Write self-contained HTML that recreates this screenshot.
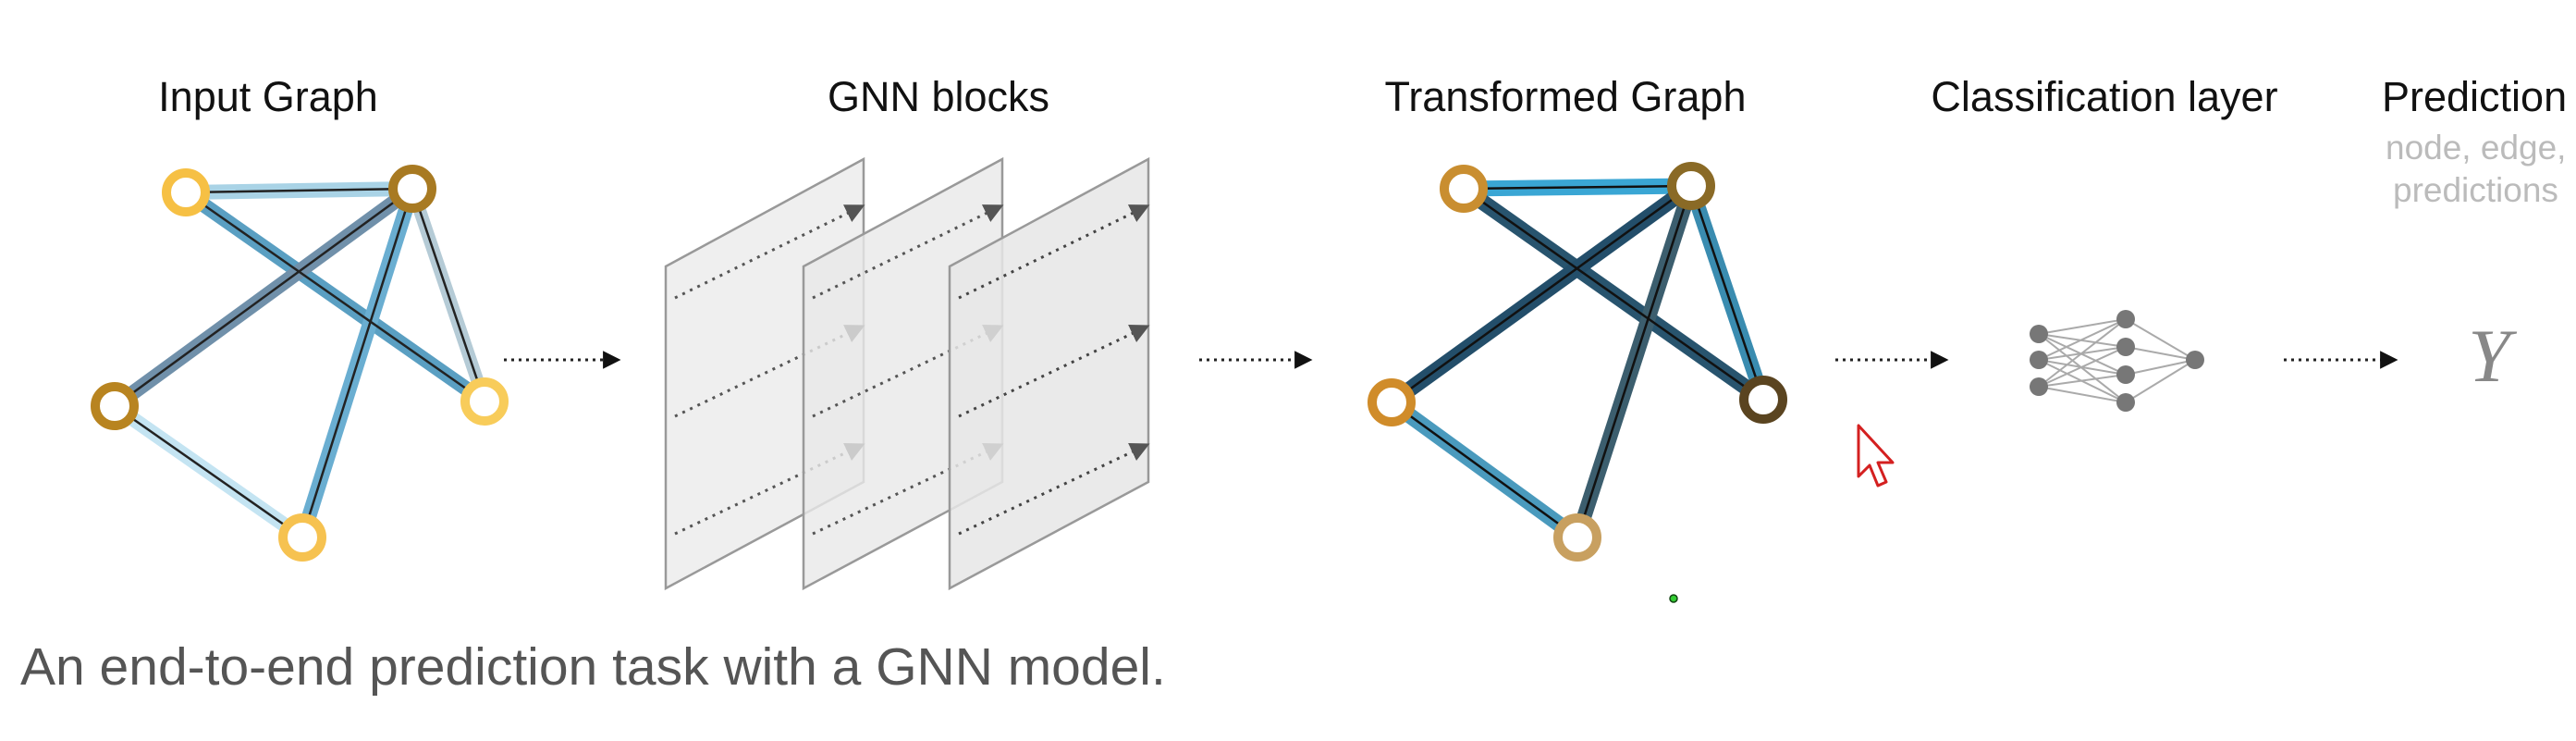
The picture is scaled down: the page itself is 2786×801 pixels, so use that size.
<!DOCTYPE html>
<html><head><meta charset="utf-8"><style>
html,body{margin:0;padding:0;background:#fff;}
svg{display:block}
</style></head><body>
<svg width="2786" height="801" viewBox="0 0 2786 801" xmlns="http://www.w3.org/2000/svg" font-family="Liberation Sans, sans-serif">
<defs>
<marker id="ah" viewBox="0 0 10 10" refX="2" refY="5" markerWidth="6.5" markerHeight="9" orient="auto" markerUnits="strokeWidth"><path d="M0,0 L10,5 L0,10 z" fill="#111"/></marker>
<marker id="ag" viewBox="0 0 10 10" refX="5" refY="5" markerWidth="7" markerHeight="7" orient="auto"><path d="M0,0 L10,5 L0,10 z" fill="#555"/></marker>
</defs>
<g font-size="45" fill="#111" text-anchor="middle">
<text x="290" y="120">Input Graph</text>
<text x="1015" y="120">GNN blocks</text>
<text x="1693" y="120">Transformed Graph</text>
<text x="2276" y="120">Classification layer</text>
<text x="2576" y="120" text-anchor="start">Prediction</text>
</g>
<g font-size="37" fill="#bbb">
<text x="2580" y="172">node, edge, or</text>
<text x="2588" y="218">predictions</text>
</g>
<text x="22" y="740" font-size="57" fill="#555">An end-to-end prediction task with a GNN model.</text>

<!-- Input graph -->
<g stroke-linecap="round">
<line x1="201" y1="208" x2="446" y2="204" stroke="#a9d3e6" stroke-width="16"/>
<line x1="201" y1="208" x2="524" y2="434" stroke="#5a9fc2" stroke-width="16"/>
<line x1="446" y1="204" x2="124" y2="439" stroke="#7090aa" stroke-width="16"/>
<line x1="446" y1="204" x2="524" y2="434" stroke="#b5cbd6" stroke-width="14"/>
<line x1="446" y1="204" x2="327" y2="581" stroke="#6aaed1" stroke-width="16"/>
<line x1="124" y1="439" x2="327" y2="581" stroke="#c4e4f2" stroke-width="16"/>
<g stroke="#222" stroke-width="2.5">
<line x1="201" y1="208" x2="446" y2="204"/><line x1="201" y1="208" x2="524" y2="434"/>
<line x1="446" y1="204" x2="124" y2="439"/><line x1="446" y1="204" x2="524" y2="434"/>
<line x1="446" y1="204" x2="327" y2="581"/><line x1="124" y1="439" x2="327" y2="581"/>
</g>
</g>
<g fill="#fff" stroke-width="10">
<circle cx="201" cy="208" r="21" stroke="#f6c044"/>
<circle cx="446" cy="204" r="21" stroke="#a87a22"/>
<circle cx="124" cy="439" r="21" stroke="#b88420"/>
<circle cx="524" cy="434" r="21" stroke="#f8cc5a"/>
<circle cx="327" cy="581" r="21" stroke="#f6c250"/>
</g>

<!-- Arrows between stages -->
<g stroke="#222" stroke-width="3" stroke-dasharray="3 5" marker-end="url(#ah)">
<line x1="545" y1="389" x2="656" y2="389"/>
<line x1="1297" y1="389" x2="1404" y2="389"/>
<line x1="1985" y1="389" x2="2092" y2="389"/>
<line x1="2470" y1="389" x2="2578" y2="389"/>
</g>

<!-- GNN planes -->
<polygon points="720,288 934,172 934,521 720,636" fill="#ececec" fill-opacity="0.85" stroke="#999" stroke-width="2.5"/>
<g stroke="#555" stroke-width="3" stroke-dasharray="3 6" marker-end="url(#ag)">
<line x1="730" y1="322" x2="926" y2="226"/><line x1="730" y1="450" x2="926" y2="356"/><line x1="730" y1="577" x2="926" y2="484"/>
</g>
<polygon points="869,288 1084,172 1084,521 869,636" fill="#e8e8e8" fill-opacity="0.8" stroke="#999" stroke-width="2.5"/>
<g stroke="#555" stroke-width="3" stroke-dasharray="3 6" marker-end="url(#ag)">
<line x1="879" y1="322" x2="1076" y2="226"/><line x1="879" y1="450" x2="1076" y2="356"/><line x1="879" y1="577" x2="1076" y2="484"/>
</g>
<polygon points="1027,288 1242,172 1242,521 1027,636" fill="#e6e6e6" fill-opacity="0.85" stroke="#999" stroke-width="2.5"/>
<g stroke="#444" stroke-width="3" stroke-dasharray="3 6" marker-end="url(#ag)">
<line x1="1037" y1="322" x2="1234" y2="226"/><line x1="1037" y1="450" x2="1234" y2="356"/><line x1="1037" y1="577" x2="1234" y2="484"/>
</g>

<!-- Transformed graph -->
<g stroke-linecap="round">
<line x1="1583" y1="204" x2="1829" y2="201" stroke="#3aa6d4" stroke-width="17"/>
<line x1="1583" y1="204" x2="1907" y2="432" stroke="#28546e" stroke-width="17"/>
<line x1="1829" y1="201" x2="1505" y2="435" stroke="#234e6a" stroke-width="17"/>
<line x1="1829" y1="201" x2="1907" y2="432" stroke="#3a8cb0" stroke-width="16"/>
<line x1="1829" y1="201" x2="1706" y2="581" stroke="#3c5e6e" stroke-width="16"/>
<line x1="1505" y1="435" x2="1706" y2="581" stroke="#4a9abd" stroke-width="17"/>
<g stroke="#111" stroke-width="2.5">
<line x1="1583" y1="204" x2="1829" y2="201"/><line x1="1583" y1="204" x2="1907" y2="432"/>
<line x1="1829" y1="201" x2="1505" y2="435"/><line x1="1829" y1="201" x2="1907" y2="432"/>
<line x1="1829" y1="201" x2="1706" y2="581"/><line x1="1505" y1="435" x2="1706" y2="581"/>
</g>
</g>
<g fill="#fff" stroke-width="10">
<circle cx="1583" cy="204" r="21" stroke="#c98e30"/>
<circle cx="1829" cy="201" r="21" stroke="#8a6a26"/>
<circle cx="1505" cy="435" r="21" stroke="#d08c2a"/>
<circle cx="1907" cy="432" r="21" stroke="#5a4420"/>
<circle cx="1706" cy="581" r="21" stroke="#c8a060"/>
</g>

<!-- Classification NN -->
<g stroke="#aaa" stroke-width="2">
<path d="M2205,361 L2299,345 M2205,361 L2299,375 M2205,361 L2299,405 M2205,361 L2299,435
M2205,389 L2299,345 M2205,389 L2299,375 M2205,389 L2299,405 M2205,389 L2299,435
M2205,418 L2299,345 M2205,418 L2299,375 M2205,418 L2299,405 M2205,418 L2299,435
M2299,345 L2374,389 M2299,375 L2374,389 M2299,405 L2374,389 M2299,435 L2374,389"/>
</g>
<g fill="#777">
<circle cx="2205" cy="361" r="10"/><circle cx="2205" cy="389" r="10"/><circle cx="2205" cy="418" r="10"/>
<circle cx="2299" cy="345" r="10"/><circle cx="2299" cy="375" r="10"/><circle cx="2299" cy="405" r="10"/><circle cx="2299" cy="435" r="10"/>
<circle cx="2374" cy="389" r="10"/>
</g>
<text x="2692" y="412" font-family="Liberation Serif, serif" font-style="italic" font-size="82" fill="#888" text-anchor="middle">Y</text>

<!-- cursor -->
<path d="M2010,460 L2010,515 L2022,503 L2031,525 L2040,521 L2031,500 L2047,500 Z" fill="#fff" stroke="#d42020" stroke-width="3" stroke-linejoin="round"/>
<circle cx="1810" cy="647" r="4" fill="#3c3" stroke="#141" stroke-width="1.5"/>
</svg>
</body></html>
